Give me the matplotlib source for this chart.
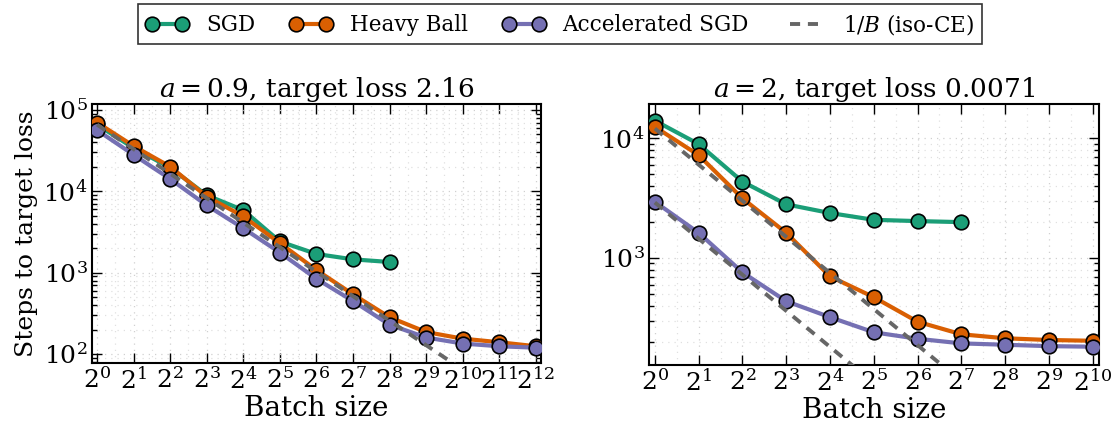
import numpy as np
import matplotlib
matplotlib.use("Agg")
import matplotlib.pyplot as plt
from matplotlib.ticker import FixedLocator, NullFormatter, LogLocator

plt.rcParams['font.family'] = ['DejaVu Serif']
plt.rcParams['mathtext.fontset'] = 'dejavuserif'

# data
batch_left = [2 ** k for k in range(13)]
sgd_left = [66000, 34000, 19500, 8950, 5870, 2420, 1700, 1460, 1355]
hb_left = [70000, 36000, 20100, 8630, 4920, 2310, 1080, 543, 284, 187, 155, 140, 125]
asgd_left = [56500, 28100, 14200, 6730, 3520, 1770, 842, 449, 230, 160, 135, 125, 120]
iso_left = [66000]

batch_right = [2 ** k for k in range(11)]
sgd_right = [13970, 8900, 4330, 2800, 2370, 2080, 2030, 1990]
hb_right = [12400, 7200, 3140, 1620, 702, 471, 294, 231, 214, 207, 204]
asgd_right = [2940, 1620, 759, 436, 321, 240, 212, 194, 189, 184, 182]
iso_right = [12000, 2900]

titles = [r'$a=0.9$, target loss 2.16', r'$a=2$, target loss 0.0071']
ylims = [(78, 1.18e5), (128, 1.92e4)]

colors = {'SGD': '#1b9e77', 'Heavy Ball': '#d95f02', 'Accelerated SGD': '#7570b3'}

fig = plt.figure(figsize=(11.11, 4.23), dpi=100)
ax1 = fig.add_axes([0.0828, 0.142, 0.404, 0.612])
ax2 = fig.add_axes([0.584, 0.137, 0.405, 0.617])

panels = [
    (ax1, batch_left, [sgd_left, hb_left, asgd_left], iso_left),
    (ax2, batch_right, [sgd_right, hb_right, asgd_right], iso_right),
]

for i, (ax, B, series, iso) in enumerate(panels):
    B = np.array(B, dtype=float)
    for name, vals in zip(colors.keys(), series):
        ax.plot(B[:len(vals)], vals, '-o', color=colors[name], lw=3,
                ms=10.5, mec='black', mew=1.2, label=name, zorder=3)
    for j, c in enumerate(iso):
        ax.plot(B, c / B, '--', color='#666666', lw=2.8, dashes=(2.6, 2),
                label=r'$1/B$ (iso-CE)' if j == 0 else None, zorder=4)
    ax.set_xscale('log', base=2)
    ax.set_yscale('log')
    ax.set_xlim(B.min() / 1.1, B.max() * 1.1)
    ax.set_ylim(*ylims[i])
    ax.xaxis.set_major_locator(FixedLocator(B))
    ax.set_xticklabels([r'$2^{%d}$' % k for k in range(len(B))])
    ax.xaxis.set_minor_locator(FixedLocator(B[:-1] * np.sqrt(2)))
    ax.xaxis.set_minor_formatter(NullFormatter())
    ax.yaxis.set_major_locator(LogLocator(base=10))
    ax.yaxis.set_minor_locator(LogLocator(base=10, subs=np.arange(2, 10)))
    ax.yaxis.set_minor_formatter(NullFormatter())
    ax.tick_params(which='both', direction='in', top=True, right=True)
    ax.tick_params(which='major', length=7, width=1, labelsize=18, pad=3)
    ax.tick_params(axis='y', which='minor', length=3.5, width=1)
    ax.tick_params(axis='x', which='minor', length=0)
    ax.grid(which='major', color='#d0d0d0', lw=0.9, dashes=(1, 4))
    ax.grid(which='minor', color='#e0e0e0', lw=0.9, dashes=(1, 4))
    for s in ax.spines.values():
        s.set_linewidth(1.5)
    ax.set_title(titles[i], fontsize=19, pad=5)
    ax.set_xlabel('Batch size', fontsize=20, labelpad=1)

ax1.set_ylabel('Steps to target loss', fontsize=18, labelpad=4)

handles, labels = ax1.get_legend_handles_labels()
leg = fig.legend(handles, labels, loc='upper center', bbox_to_anchor=(0.504, 1.0),
                 ncol=4, fontsize=15.5, frameon=True, fancybox=False, numpoints=2,
                 handlelength=2.0, columnspacing=1.6, borderpad=0.35, handletextpad=0.8,
                 borderaxespad=0.2)
leg.get_frame().set_edgecolor('black')
leg.get_frame().set_linewidth(1.2)

fig.savefig('out.png', dpi=100)
